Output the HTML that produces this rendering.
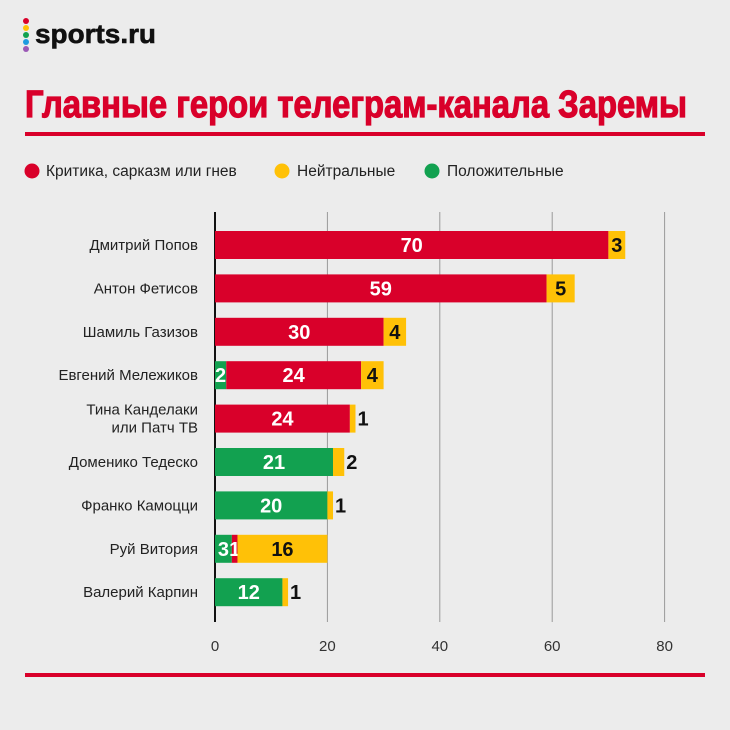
<!DOCTYPE html>
<html><head><meta charset="utf-8"><style>
html,body{margin:0;padding:0;background:#ececec}
svg{display:block;font-family:"Liberation Sans","DejaVu Sans",sans-serif}
</style></head><body>
<svg id="c" width="730" height="730" viewBox="0 0 730 730">
<rect width="730" height="730" fill="#ececec"/>
<g>
<circle cx="26" cy="21" r="3" fill="#d9002a"/><circle cx="26" cy="28" r="3" fill="#ffc107"/><circle cx="26" cy="35" r="3" fill="#12a150"/><circle cx="26" cy="42" r="3" fill="#1e9be0"/><circle cx="26" cy="49" r="3" fill="#9b59b6"/>
<text x="35" y="43" font-size="27" font-weight="bold" fill="#111" stroke="#111" stroke-width="0.6" textLength="121" lengthAdjust="spacingAndGlyphs">sports.ru</text>
</g>
<text x="25" y="117" font-size="38" font-weight="bold" fill="#d9002a" stroke="#d9002a" stroke-width="1.2" textLength="662" lengthAdjust="spacingAndGlyphs">Главные герои телеграм-канала Заремы</text>
<rect x="25" y="132" width="680" height="4" fill="#d9002a"/>
<g font-size="15.5" fill="#222">
<g><circle cx="32" cy="171" r="7.5" fill="#d9002a"/><text x="46" y="176">Критика, сарказм или гнев</text></g>
<g><circle cx="282" cy="171" r="7.5" fill="#ffc107"/><text x="297" y="176">Нейтральные</text></g>
<g><circle cx="432" cy="171" r="7.5" fill="#12a150"/><text x="447" y="176">Положительные</text></g>
</g>
<g id="plot"></g>
<rect x="25" y="673" width="680" height="4" fill="#d9002a"/>
</svg>
<script>
const categories=[["Дмитрий Попов"],["Антон Фетисов"],["Шамиль Газизов"],["Евгений Мележиков"],["Тина Канделаки","или Патч ТВ"],["Доменико Тедеско"],["Франко Камоцци"],["Руй Витория"],["Валерий Карпин"]];
const positive=[0,0,0,2,0,21,20,3,12];
const critical=[70,59,30,24,24,0,0,1,0];
const neutral=[3,5,4,4,1,2,1,16,1];
const ticks=[0,20,40,60,80];
const NS="http://www.w3.org/2000/svg";
const plot=document.getElementById('plot');
const x=v=>215+v*5.62;
const y0=212,y1=622,top0=231,step=43.4,bh=28;
const y=i=>top0+i*step;
function mk(tag,attrs,parent){const e=document.createElementNS(NS,tag);for(const k in attrs)e.setAttribute(k,attrs[k]);(parent||plot).appendChild(e);return e;}
ticks.forEach(t=>{
  if(t>0){const g=mk('line',{x1:x(t),x2:x(t),y1:y0,y2:y1,stroke:'#999','stroke-width':1});
  
  }
  const tl=mk('text',{x:x(t),y:651,'font-size':15,fill:'#333','text-anchor':'middle'});tl.textContent=t;
  
  
});
const ax=mk('line',{x1:215,x2:215,y1:y0,y2:y1,stroke:'#111','stroke-width':2});


categories.forEach((c,i)=>{
  const cy=y(i)+bh/2;
  const t=mk('text',{x:198,'font-size':15,fill:'#222','text-anchor':'end'});
  
  
  if(c.length===1){t.setAttribute('y',cy+5);t.textContent=c[0];}
  else{c.forEach((s,k)=>{const ts=mk('tspan',{x:198,y:cy-4+k*18},t);ts.textContent=s;});}
  let acc=0;
  [[positive[i],'#12a150','#fff','positive'],[critical[i],'#d9002a','#fff','critical'],[neutral[i],'#ffc107','#111','neutral']].forEach(([v,col,tc,nm])=>{
    if(!v)return;
    const xa=x(acc),xb=x(acc+v);acc+=v;
    const r=mk('rect',{x:xa,y:y(i),width:xb-xa,height:bh,fill:col});
    
    
    const outside=(nm==='neutral'&&v<=2);
    const lt=mk('text',{x:outside?xb+2:(xa+xb)/2,y:cy+7,'font-size':20,'font-weight':'bold',fill:outside?'#111':tc,'text-anchor':outside?'start':'middle'});
    lt.textContent=v;
    
    
  });
});
</script>
</body></html>
